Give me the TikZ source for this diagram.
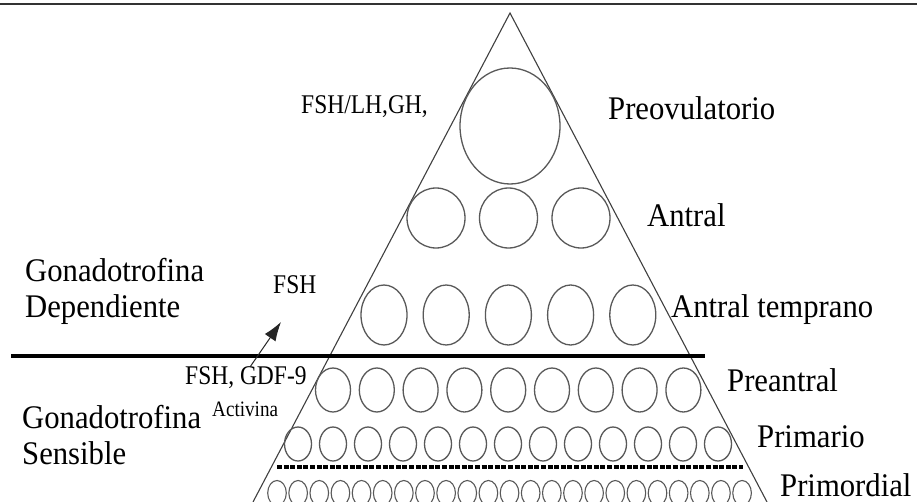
\documentclass[tikz,border=0pt]{standalone}
\usepackage{fontspec}
\setmainfont{Liberation Serif}[FakeStretch=0.93]
\newfontfamily\narrowserif{Liberation Serif}[FakeStretch=0.87]
\usetikzlibrary{arrows.meta}
\tikzset{
  follicle/.style={draw=black!65, line width=1.3pt},
  edge/.style={draw=black!75, line width=1.1pt},
  biglabel/.style={anchor=west, inner sep=0pt, font=\fontsize{33}{38}\selectfont},
  smalllabel/.style={anchor=west, inner sep=0pt, font=\narrowserif\fontsize{27}{31}\selectfont},
  tinylabel/.style={anchor=west, inner sep=0pt, font=\narrowserif\fontsize{22}{26}\selectfont}
}
\begin{document}
\begin{tikzpicture}[x=1pt,y=-1pt]
\useasboundingbox (0,0) rectangle (917,502);
\clip (0,0) rectangle (917,502);
\fill[white] (0,0) rectangle (917,502);
% top frame line
\draw[black!80, line width=2pt] (0,4.5) -- (917,4.5);
% triangle
\coordinate (apex) at (510,13);
\coordinate (bl) at (253,502);
\coordinate (br) at (767,502);
\draw[edge] (bl) -- (apex) -- (br);
% preovulatory
\draw[follicle] (510,126) ellipse [x radius=50, y radius=58];
% antral
\foreach \i in {0,1,2} \draw[follicle] ({436+72.5*\i},218) ellipse [x radius=29, y radius=30];
% early antral
\foreach \i in {0,...,4} \draw[follicle] ({384+62.2*\i},315) ellipse [x radius=23, y radius=30];
% preantral
\foreach \i in {0,...,8} \draw[follicle] ({333+43.8*\i},390) ellipse [x radius=17.5, y radius=22];
% primary
\foreach \i in {0,...,12} \draw[follicle] ({298+35*\i},444) ellipse [x radius=13.5, y radius=17];
% primordial
\foreach \i in {0,...,22} \draw[follicle, line width=1.1pt] ({277+21.14*\i},493) ellipse [x radius=9.3, y radius=12.5];
% dividing lines
\draw[black, line width=4pt] (11,356) -- (705,356);
\draw[black, line width=3.4pt, dash pattern=on 5pt off 1.6pt] (277,467) -- (743,467);
% labels
\node[biglabel] (preov) at (608,108) {Preovulatorio};
\node[biglabel] (antral) at (647,215) {Antral};
\node[biglabel] (antemp) at (671,310) {Antral temprano};
\node[biglabel] (prean) at (727,380) {Preantral};
\node[biglabel] (prim) at (757,437) {Primario};
\node[biglabel] (primord) at (780,485) {Primordial};
\node[biglabel] (gd1) at (25,270) {Gonadotrofina};
\node[biglabel] (gd2) at (25,310) {Dependiente};
\node[biglabel] (gs1) at (22,417) {Gonadotrofina};
\node[biglabel] (gs2) at (22,453) {Sensible};
\node[smalllabel] (fshlh) at (301,107) {FSH/LH,GH,};
\node[smalllabel] (fsh) at (273,285) {FSH};
\node[smalllabel] (fshgdf) at (185,378) {FSH, GDF-9};
\node[tinylabel] (activ) at (212,409) {Activina};
% arrow
\coordinate (arrs) at (250,367);
\coordinate (arre) at (281,322);
\draw[black!85, line width=1pt, -{Latex[length=19pt,width=13pt]}] (arrs) -- (arre);
\end{tikzpicture}
\end{document}
